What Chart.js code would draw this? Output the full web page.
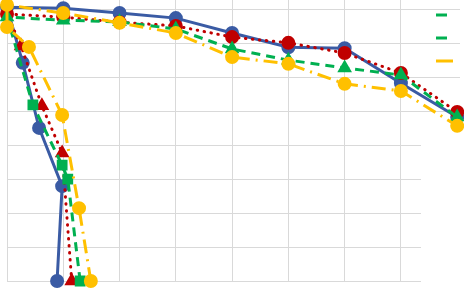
<!DOCTYPE html>
<html>
<head>
<meta charset="utf-8">
<script src="https://cdn.jsdelivr.net/npm/chart.js@4/dist/chart.umd.min.js"></script>
<style>
  html, body { margin: 0; padding: 0; background: #fff; overflow: hidden; }
  #wrap { width: 464px; height: 288px; }
</style>
</head>
<body>
<div id="wrap"><canvas id="chart"></canvas></div>
<script>
// each curve runs from the bottom of the steep branch, up to x=0, then right along the flat branch
const blueX = [0.89, 0.98, 0.57, 0.28, 0, 1, 2, 3, 4, 5, 6, 7, 8];
const blueY = [0, 2.80, 4.52, 6.44, 8.08, 8.05, 7.91, 7.76, 7.32, 6.90, 6.87, 5.84, 4.84];

const redX = [1.15, 0.98, 0.62, 0.25, 0, 1, 2, 3, 4, 5, 6, 7, 8];
const redY = [0, 3.78, 5.17, 6.94, 7.88, 7.79, 7.64, 7.53, 7.20, 7.03, 6.73, 6.14, 4.99];

const greenX = [1.30, 1.08, 0.98, 0.46, 0, 1, 2, 3, 4, 5, 6, 7, 8];
const greenY = [0, 3.01, 3.42, 5.20, 7.79, 7.70, 7.65, 7.44, 6.85, 6.52, 6.29, 6.08, 4.84];

const yellowX = [1.49, 1.28, 0.98, 0.39, 0, 0, 1, 2, 3, 4, 5, 6, 7, 8];
const yellowY = [0, 2.15, 4.90, 6.91, 7.50, 8.15, 7.91, 7.62, 7.32, 6.61, 6.41, 5.82, 5.61, 4.58];

const gridTicks = [0, 1, 2, 3, 4, 5, 6, 7, 8];

function pts(xs, ys) {
    return xs.map((x, i) => ({ x: x, y: ys[i] }));
}

// first n points (steep branch) get one marker, the rest another
function shapes(n, total, a, b) {
    const out = [];
    for (let i = 0; i < total; i++) out.push(i < n ? a : b);
    return out;
}

const gridColor = '#d9d9d9';

// white patch lying over the lower right grid, and the cut-off legend samples
const extras = {
    id: 'extras',
    beforeDatasetsDraw(chart) {
        const ctx = chart.ctx;
        ctx.save();
        ctx.fillStyle = '#fff';
        ctx.fillRect(421, 122, 50, 170);
        ctx.restore();
    },
    afterDraw(chart) {
        const ctx = chart.ctx;
        ctx.save();
        ctx.lineWidth = 3;
        ctx.strokeStyle = '#00b050';
        ctx.beginPath(); ctx.moveTo(436, 15); ctx.lineTo(447, 15); ctx.stroke();
        ctx.beginPath(); ctx.moveTo(436, 38); ctx.lineTo(447, 38); ctx.stroke();
        ctx.strokeStyle = '#ffc000';
        ctx.beginPath(); ctx.moveTo(436, 61); ctx.lineTo(453, 61); ctx.stroke();
        ctx.restore();
    }
};

const config = {
    type: 'scatter',
    data: {
        datasets: [{
            data: pts(blueX, blueY),
            showLine: true,
            borderColor: '#3a5ba4',
            backgroundColor: '#3a5ba4',
            borderWidth: 3,
            pointRadius: 5.5,
            pointStyle: 'circle',
            order: 4
        }, {
            data: pts(redX, redY),
            showLine: true,
            borderColor: '#c00000',
            backgroundColor: '#c00000',
            borderWidth: 3,
            borderDash: [0.5, 6.5],
            borderCapStyle: 'round',
            pointRadius: 5.5,
            pointStyle: shapes(4, redX.length, 'triangle', 'circle'),
            order: 3
        }, {
            data: pts(greenX, greenY),
            showLine: true,
            borderColor: '#00b050',
            backgroundColor: '#00b050',
            borderWidth: 3,
            borderDash: [9, 6],
            pointRadius: 5.5,
            pointStyle: shapes(4, greenX.length, 'rect', 'triangle'),
            order: 2
        }, {
            data: pts(yellowX, yellowY),
            showLine: true,
            borderColor: '#ffc000',
            backgroundColor: '#ffc000',
            borderWidth: 3,
            borderDash: [14, 6, 2, 6],
            pointRadius: 5.5,
            pointStyle: 'circle',
            order: 1
        }]
    },
    options: {
        responsive: true,
        maintainAspectRatio: false,
        animation: false,
        clip: false,
        layout: {
            autoPadding: false,
            padding: { left: 7, right: 4, top: 0, bottom: 7 }
        },
        plugins: {
            legend: { display: false },
            tooltip: { enabled: false }
        },
        scales: {
            x: {
                type: 'linear',
                min: 0,
                max: 8.05,
                afterBuildTicks: s => { s.ticks = gridTicks.filter(v => v <= 7).map(v => ({ value: v })); },
                ticks: { display: false },
                grid: { color: gridColor, drawTicks: false },
                border: { color: gridColor }
            },
            y: {
                type: 'linear',
                min: 0,
                max: 8.295,
                afterBuildTicks: s => { s.ticks = gridTicks.map(v => ({ value: v })); },
                ticks: { display: false },
                grid: { color: gridColor, drawTicks: false },
                border: { color: gridColor }
            }
        }
    },
    plugins: [extras]
};

new Chart(document.getElementById('chart'), config);
</script>
</body>
</html>
